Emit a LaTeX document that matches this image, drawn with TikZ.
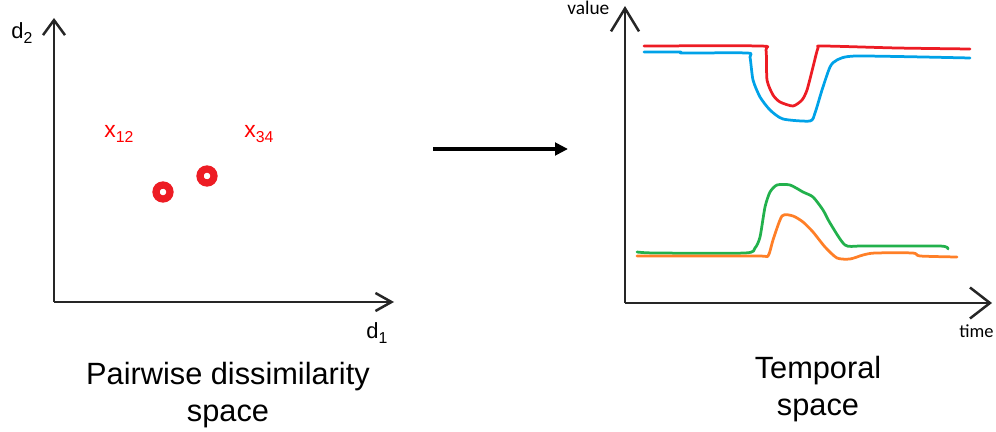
\documentclass[tikz,border=0pt]{standalone}
\usepackage{fontspec}
\setmainfont{Liberation Sans}
\newfontfamily\calfont{Carlito}
\usetikzlibrary{positioning, arrows.meta}

\definecolor{pred}{RGB}{237,28,36}
\definecolor{pblue}{RGB}{0,162,232}
\definecolor{pgreen}{RGB}{34,177,76}
\definecolor{porange}{RGB}{255,127,39}

\newcommand{\withsub}[2]{#1\raisebox{-0.1cm}{\fontsize{9}{9}\selectfont #2}}

\tikzset{
  axisline/.style={line width=0.05cm, black!85},
  ringdot/.style={circle, fill=white, draw=pred, line width=0.145cm, minimum size=0.28cm, inner sep=0},
  lbl/.style={inner sep=0, anchor=base west, font=\fontsize{12.5}{12.5}\selectfont},
  caption/.style={inner sep=0, anchor=base, align=center, font=\fontsize{17.5}{21}\selectfont},
  curve/.style={line width=0.055cm, line join=round, line cap=round}
}

\begin{document}
\begin{tikzpicture}[x=0.02cm, y=-0.02cm]
\useasboundingbox (0,0) rectangle (996,432);

% left: dissimilarity space
\coordinate (o1) at (54,302);
\coordinate (top1) at (54,18);
\coordinate (right1) at (394,302);
\draw[axisline, -{Straight Barb[length=0.3cm, width=0.44cm]}] (o1) -- (top1);
\draw[axisline, -{Straight Barb[length=0.32cm, width=0.36cm]}] (o1) -- (right1);

\node[lbl] (d2) at (11,39) {\withsub{d}{2}};
\node[lbl] (d1) at (366,338) {\withsub{d}{1}};
\node[lbl, text=red, font=\fontsize{13}{13}\selectfont] (x12) at (104,138) {\withsub{x}{12}};
\node[lbl, text=red, font=\fontsize{13}{13}\selectfont] (x34) at (244,138) {\withsub{x}{34}};

\node[ringdot] (p12) at (163,192) {};
\node[ringdot] (p34) at (207,176) {};

\node[caption] (cap1) at (228,421) {Pairwise dissimilarity\\space};

% middle arrow
\coordinate (from) at (433,149);
\coordinate (to) at (568,149);
\draw[line width=0.08cm, -{Triangle[length=0.26cm, width=0.25cm]}] (from) -- (to);

% right: temporal space
\coordinate (o2) at (625,303);
\coordinate (top2) at (625,6);
\coordinate (right2) at (992,303);
\draw[axisline, -{Straight Barb[length=0.46cm, width=0.56cm]}] (o2) -- (top2);
\draw[axisline, -{Straight Barb[length=0.4cm, width=0.62cm]}] (o2) -- (right2);

\node[lbl, font=\calfont\fontsize{11}{11}\selectfont] (val) at (567,15) {value};
\node[lbl, font=\calfont\fontsize{10.5}{10.5}\selectfont] (tm) at (959,337) {time};

\draw[curve, pred] plot[smooth, tension=0.4] coordinates {
  (644,46) (760,46) (766,50) (767,80) (773,95) (780,102) (793,106)
  (802,100) (807,90) (813,67) (818,48) (823,46) (897,48) (970,49)};
\draw[curve, pblue] plot[smooth, tension=0.4] coordinates {
  (644,52) (680,52) (683,53) (747,53) (750,57) (753,80) (760,97) (770,110)
  (783,119) (810,121) (815,113) (822,90) (830,67) (837,60) (857,56) (970,58)};
\draw[curve, pgreen] plot[smooth, tension=0.4] coordinates {
  (637,252) (655,253) (745,253) (755,248) (760,237) (765,207) (770,192)
  (777,185) (790,185) (803,192) (813,197) (823,210) (830,223) (845,245)
  (863,246) (940,246) (948,249)};
\draw[curve, porange] plot[smooth, tension=0.4] coordinates {
  (637,256) (757,256) (768,256) (773,240) (782,216) (793,216) (803,222)
  (813,232) (825,247) (837,258) (850,259) (863,255) (875,253) (913,253)
  (920,256) (957,257)};

\node[caption] (cap2) at (818,415) {Temporal\\space};
\end{tikzpicture}
\end{document}
